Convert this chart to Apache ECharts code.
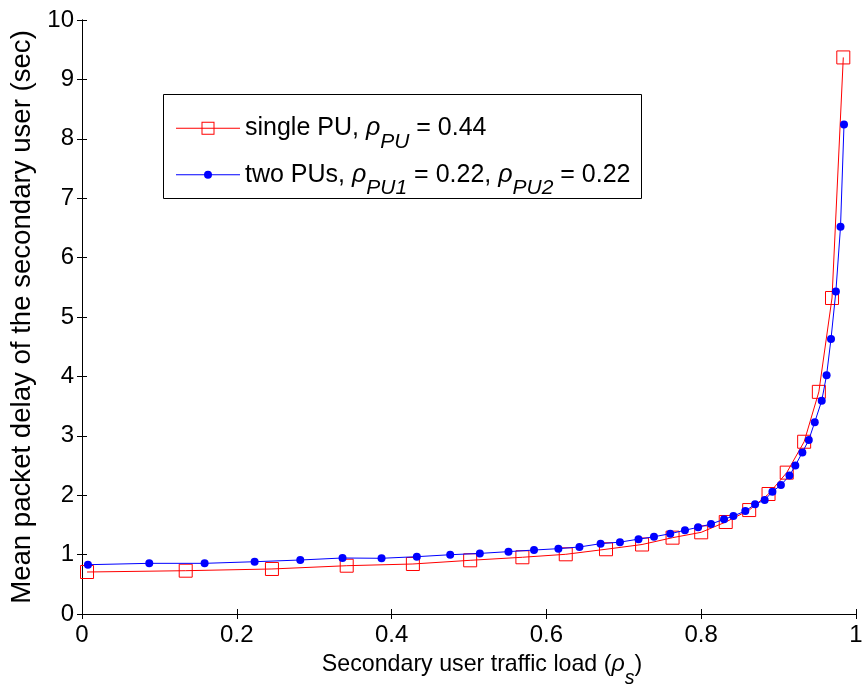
<!DOCTYPE html>
<html>
<head>
<meta charset="utf-8">
<script src="https://cdn.jsdelivr.net/npm/echarts@6/dist/echarts.min.js"></script>
<style>
html,body{margin:0;padding:0;background:#fff;}
#c{width:862px;height:688px;}
</style>
</head>
<body>
<div id="c"></div>
<script>
// ---- data ----
const singleX = [0.0065, 0.134, 0.2454, 0.342, 0.4275, 0.5015, 0.569, 0.625, 0.677, 0.7236, 0.763, 0.800, 0.8317, 0.862, 0.887, 0.9105, 0.933, 0.952, 0.969, 0.9836];
const singleY = [0.707, 0.729, 0.758, 0.813, 0.842, 0.904, 0.955, 1.005, 1.09, 1.17, 1.285, 1.375, 1.549, 1.75, 2.02, 2.38, 2.90, 3.74, 5.32, 9.37];
const twoX = [0.0077, 0.0869, 0.1584, 0.223, 0.282, 0.3366, 0.387, 0.4326, 0.4757, 0.514, 0.551, 0.584, 0.6155, 0.6427, 0.670, 0.695, 0.719, 0.739, 0.760, 0.779, 0.796, 0.8127, 0.8295, 0.8416, 0.857, 0.8696, 0.882, 0.892, 0.903, 0.914, 0.9216, 0.9307, 0.939, 0.9467, 0.9557, 0.962, 0.9677, 0.974, 0.980, 0.9845];
const twoY = [0.83, 0.853, 0.853, 0.88, 0.909, 0.943, 0.938, 0.965, 0.998, 1.02, 1.05, 1.077, 1.10, 1.128, 1.184, 1.21, 1.26, 1.30, 1.352, 1.41, 1.46, 1.515, 1.594, 1.65, 1.734, 1.847, 1.919, 2.06, 2.17, 2.33, 2.50, 2.72, 2.93, 3.23, 3.59, 4.02, 4.63, 5.43, 6.52, 8.24];
const seriesNames = ['single PU, \u03c1PU = 0.44', 'two PUs, \u03c1PU1 = 0.22, \u03c1PU2 = 0.22'];
const legendRich = [
  '{n|single PU, }{r|\u03c1}{s|PU}{n| = 0.44}',
  '{n|two PUs, }{r|\u03c1}{s|PU1}{n| = 0.22, }{r|\u03c1}{s|PU2}{n| = 0.22}'
];
const xName = '{f|Secondary user traffic load (}{r|\u03c1}{s|s}{n|)}';
const yName = 'Mean packet delay of the secondary user (sec)';
const xMin = 0, xMax = 1, xStep = 0.2;
const yMin = 0, yMax = 10, yStep = 1;

const FONT = "'Liberation Sans', Arial, Helvetica, sans-serif";
function makeRich(big, small, lead) {
  return {
    f: {fontSize: big, fontFamily: FONT, color: '#000', lineHeight: 48, verticalAlign: 'middle', padding: [0, 0, 0, lead]},
    n: {fontSize: big, fontFamily: FONT, color: '#000', lineHeight: 48, verticalAlign: 'middle'},
    r: {fontSize: big, fontFamily: FONT, fontStyle: 'italic', color: '#000', lineHeight: 48, verticalAlign: 'middle'},
    s: {fontSize: small, fontFamily: FONT, fontStyle: 'italic', color: '#000', lineHeight: 22, verticalAlign: 'bottom'}
  };
}
const legendRichStyle = makeRich(25, 21, 0);
const axisRichStyle = makeRich(23.2, 19.5, 26);

const redIcon = 'path://M0,6.5 L64,6.5 L64,7.5 L0,7.5 Z M25.5,0.5 L38.5,0.5 L38.5,13.5 L25.5,13.5 Z M26.5,1.5 L26.5,12.5 L37.5,12.5 L37.5,1.5 Z';
const blueIcon = 'path://M0,0 L0.01,0 L0,0.01 Z M64,14 L63.99,14 L64,13.99 Z M0,6.5 L64,6.5 L64,7.5 L0,7.5 Z M28,7 A4,4 0 1 1 36,7 A4,4 0 1 1 28,7 Z';

const chart = echarts.init(document.getElementById('c'), null, {renderer: 'canvas'});

const axisCommon = {
  axisLine: {show: true, lineStyle: {color: '#000', width: 1}},
  axisTick: {show: true, inside: true, length: 5, lineStyle: {color: '#000'}},
  splitLine: {show: false}
};

chart.setOption({
  animation: false,
  backgroundColor: '#fff',
  grid: {left: 82, right: 6, top: 20, bottom: 74, outerBoundsMode: 'none', containLabel: false},
  xAxis: [
    Object.assign({
      type: 'value', min: xMin, max: xMax, interval: xStep, position: 'bottom',
      axisLabel: {fontSize: 24, fontFamily: FONT, color: '#000', margin: 9},
      name: xName, nameLocation: 'middle', nameGap: 27,
      nameTextStyle: {rich: axisRichStyle}
    }, axisCommon),
    Object.assign({
      type: 'value', min: xMin, max: xMax, interval: xStep, position: 'top',
      axisLabel: {show: false}
    }, axisCommon)
  ],
  yAxis: [
    Object.assign({
      type: 'value', min: yMin, max: yMax, interval: yStep, position: 'left',
      axisLabel: {fontSize: 24, fontFamily: FONT, color: '#000', margin: 8},
      name: yName, nameLocation: 'middle', nameGap: 46,
      nameTextStyle: {fontSize: 27.6, fontFamily: FONT, color: '#000'}
    }, axisCommon),
    Object.assign({
      type: 'value', min: yMin, max: yMax, interval: yStep, position: 'right',
      axisLabel: {show: false}
    }, axisCommon)
  ],
  graphic: [{
    type: 'rect', z: 0,
    shape: {x: 163.5, y: 94.5, width: 478, height: 104},
    style: {fill: '#fff', stroke: '#000', lineWidth: 1}
  }],
  legend: [
    {
      data: [{name: seriesNames[0], icon: redIcon, itemStyle: {color: '#ff0000', borderWidth: 0}}],
      left: 176, top: 115.7, padding: 0, itemWidth: 64, itemHeight: 14,
      selectedMode: false,
      formatter: function () { return legendRich[0]; },
      textStyle: {rich: legendRichStyle}
    },
    {
      data: [{name: seriesNames[1], icon: blueIcon, itemStyle: {color: '#0000ff', borderWidth: 0}}],
      left: 176, top: 162.3, padding: 0, itemWidth: 64, itemHeight: 14,
      selectedMode: false,
      formatter: function () { return legendRich[1]; },
      textStyle: {rich: legendRichStyle}
    }
  ],
  series: [
    {
      name: seriesNames[0], type: 'line',
      data: singleX.map((x, i) => [x, singleY[i]]),
      symbol: 'rect', symbolSize: 13,
      lineStyle: {color: '#ff0000', width: 1},
      itemStyle: {color: 'rgba(0,0,0,0)', borderColor: '#ff0000', borderWidth: 1},
      emphasis: {disabled: true}, z: 2
    },
    {
      name: seriesNames[1], type: 'line',
      data: twoX.map((x, i) => [x, twoY[i]]),
      symbol: 'circle', symbolSize: 8,
      lineStyle: {color: '#0000ff', width: 1},
      itemStyle: {color: '#0000ff', borderWidth: 0},
      emphasis: {disabled: true}, z: 3
    }
  ]
});
</script>
</body>
</html>
